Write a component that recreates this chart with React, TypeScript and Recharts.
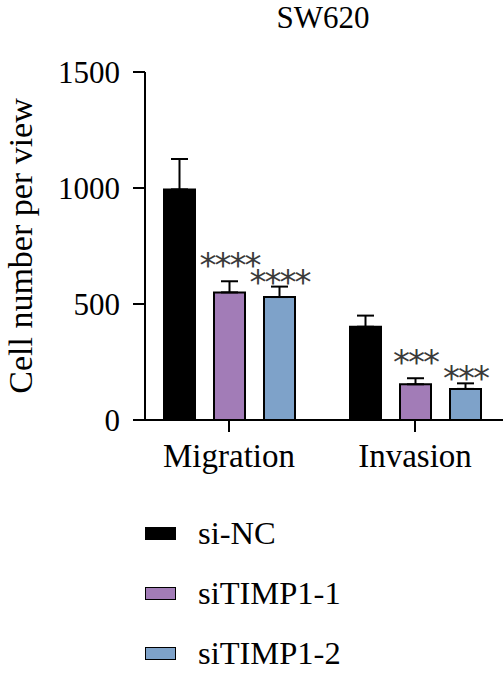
import React from 'react';
import { Bar, BarChart, ErrorBar, LabelList, XAxis, YAxis } from 'recharts';

// assay groups on the x axis
const groups = ['Migration', 'Invasion'];

// mean cell counts per view and their SD
const siNC = [994, 402];
const siNCSd = [131, 48];
const siTIMP1_1 = [550, 154];
const siTIMP1_1Sd = [48, 26];
const siTIMP1_2 = [530, 134];
const siTIMP1_2Sd = [45, 24];

// significance vs si-NC
const sigTIMP1_1 = ['****', '***'];
const sigTIMP1_2 = ['****', '***'];

const yTicks = [0, 500, 1000, 1500];

const series = [
  { key: 'nc', name: 'si-NC', fill: '#000000' },
  { key: 't1', name: 'siTIMP1-1', fill: '#a27cb7' },
  { key: 't2', name: 'siTIMP1-2', fill: '#7ea2c9' }
];

const data = groups.map((group, i) => ({
  group,
  nc: siNC[i],
  ncErr: [0, siNCSd[i]],
  t1: siTIMP1_1[i],
  t1Err: [0, siTIMP1_1Sd[i]],
  t1Sig: sigTIMP1_1[i],
  t2: siTIMP1_2[i],
  t2Err: [0, siTIMP1_2Sd[i]],
  t2Sig: sigTIMP1_2[i]
}));

const SERIF = 'Liberation Serif, Times New Roman, serif';

// asterisks sit a little above the SD whisker; whisker height scaled from the bar's own px/unit
const renderStars = (means: number[], sd: number[], lift: number) => (props: any) => {
  const { x, y, width, height, value, index } = props;
  if (!value) {
    return null;
  }
  const pxPerUnit = Number(height) / means[index];
  const whiskerTop = Number(y) - sd[index] * pxPerUnit;
  const cy = whiskerTop - lift;
  return (
    <text
      x={Number(x) + Number(width) / 2}
      y={cy + 18}
      textAnchor="middle"
      fontFamily="DejaVu Sans, sans-serif"
      fontSize={34}
      letterSpacing={-2}
      fill="#3a3a3a"
    >
      {value}
    </text>
  );
};

const App: React.FC = () => {
  return (
    <div style={{ position: 'absolute', left: 0, top: 0, width: 503, height: 673, background: '#fff' }}>
      <div
        style={{
          position: 'absolute',
          left: 0,
          width: 646,
          top: 0,
          textAlign: 'center',
          fontFamily: SERIF,
          fontSize: 31,
          lineHeight: '36px'
        }}
      >
        SW620
      </div>
      <BarChart
        width={503}
        height={480}
        data={data}
        margin={{ top: 72, right: 0, bottom: 0, left: 0 }}
        barSize={31}
        barGap={19}
      >
        <XAxis
          dataKey="group"
          height={60}
          padding={{ left: -9, right: -5 }}
          axisLine={{ stroke: '#000', strokeWidth: 2 }}
          tickLine={{ stroke: '#000', strokeWidth: 2 }}
          tickSize={12}
          tickMargin={12}
          tick={{ fill: '#000', fontFamily: SERIF, fontSize: 33 }}
        />
        <YAxis
          width={145}
          domain={[0, 1500]}
          ticks={yTicks}
          interval={0}
          axisLine={{ stroke: '#000', strokeWidth: 2 }}
          tickLine={{ stroke: '#000', strokeWidth: 2 }}
          tickSize={12}
          tickMargin={13}
          tick={{ fill: '#000', fontFamily: SERIF, fontSize: 31 }}
          label={{
            value: 'Cell number per view',
            angle: -90,
            position: 'insideLeft',
            offset: 20,
            style: { textAnchor: 'middle', fill: '#000', fontFamily: SERIF, fontSize: 34 }
          }}
        />
        <Bar dataKey="nc" name="si-NC" fill="#000" stroke="#000" strokeWidth={2} isAnimationActive={false}>
          <ErrorBar dataKey="ncErr" direction="y" width={8.5} stroke="#000" strokeWidth={2} />
        </Bar>
        <Bar dataKey="t1" name="siTIMP1-1" fill={series[1].fill} stroke="#000" strokeWidth={2} isAnimationActive={false}>
          <ErrorBar dataKey="t1Err" direction="y" width={8.5} stroke="#000" strokeWidth={2} />
          <LabelList dataKey="t1Sig" content={renderStars(siTIMP1_1, siTIMP1_1Sd, 22)} />
        </Bar>
        <Bar dataKey="t2" name="siTIMP1-2" fill={series[2].fill} stroke="#000" strokeWidth={2} isAnimationActive={false}>
          <ErrorBar dataKey="t2Err" direction="y" width={8.5} stroke="#000" strokeWidth={2} />
          <LabelList dataKey="t2Sig" content={renderStars(siTIMP1_2, siTIMP1_2Sd, 11)} />
        </Bar>
      </BarChart>
      {series.map((s, i) => (
        <div
          key={s.key}
          style={{
            position: 'absolute',
            left: 145,
            top: 512 + i * 60,
            height: 42,
            display: 'flex',
            alignItems: 'center',
            fontFamily: SERIF,
            fontSize: 32.5
          }}
        >
          <span
            style={{
              display: 'inline-block',
              width: 29,
              height: 11,
              background: s.fill,
              border: '1.5px solid #000',
              marginRight: 22
            }}
          />
          <span>{s.name}</span>
        </div>
      ))}
    </div>
  );
};

export default App;
